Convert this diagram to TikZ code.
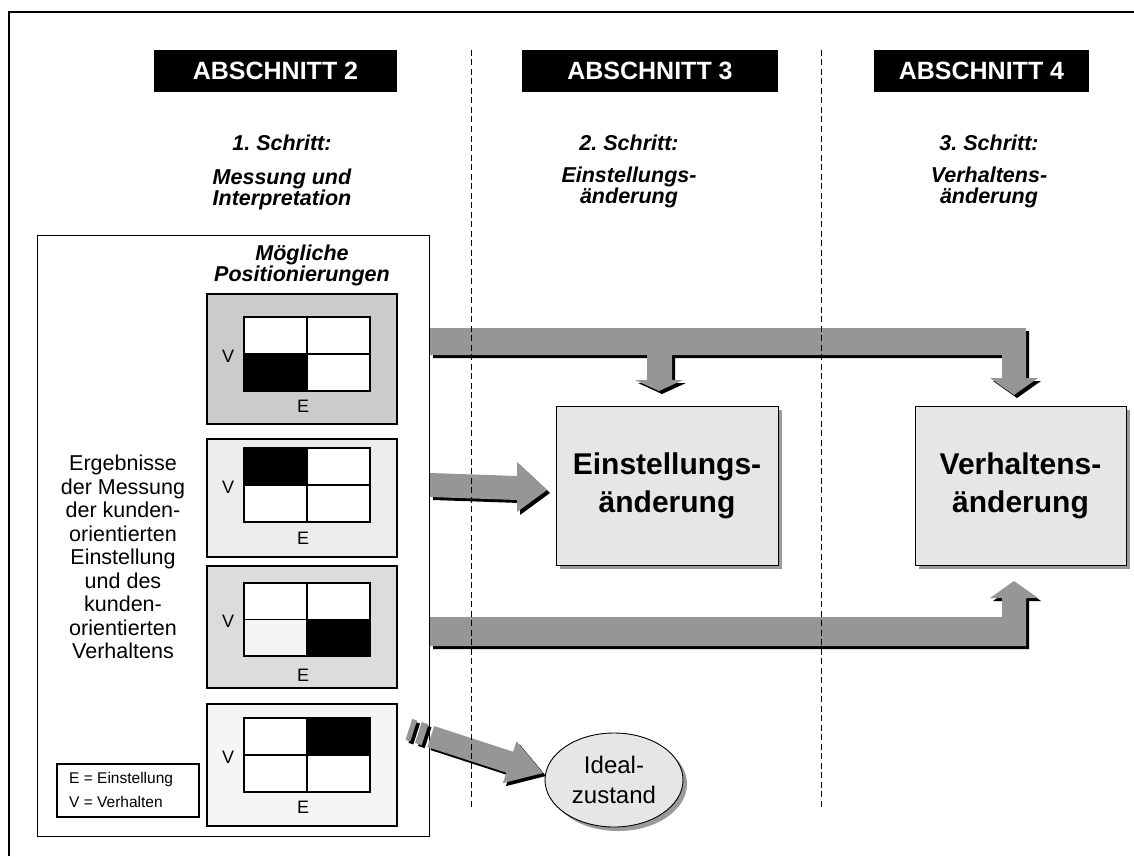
\documentclass[tikz,border=0pt]{standalone}
\usepackage{fontspec}
\setmainfont{Liberation Sans}
\usetikzlibrary{shadows,shapes.geometric}
\definecolor{arrowgray}{HTML}{969696}
\definecolor{boxgray}{HTML}{E6E6E6}
\definecolor{posA}{HTML}{CBCBCB}
\definecolor{posB}{HTML}{ECECEC}
\definecolor{posC}{HTML}{DCDCDC}
\definecolor{posD}{HTML}{F5F5F5}
\definecolor{shadowgray}{HTML}{9A9A9A}
\newcommand\TightLines{\setlength{\lineskiplimit}{-30pt}}
\frenchspacing
\begin{document}
\frenchspacing
\begin{tikzpicture}[x=1pt,y=-1pt,
  hdr/.style={fill=black,text=white,font=\fontsize{25}{28}\selectfont\bfseries,minimum height=42pt,inner sep=0pt},
  steptxt/.style={font=\TightLines\fontsize{21.5}{21}\selectfont\bfseries\itshape,align=center,inner sep=0pt},
  posbox/.style={draw=black,line width=1.2pt,minimum width=190pt,inner sep=0pt},
  gridline/.style={draw=black,line width=1.3pt},
  axislbl/.style={font=\fontsize{18}{20}\selectfont,inner sep=0pt},
  plaintxt/.style={font=\fontsize{21.5}{23.5}\selectfont,align=center,inner sep=0pt},
  changebox/.style={draw=black,line width=0.9pt,fill=boxgray,minimum width=222pt,minimum height=159pt,inner sep=0pt,align=center,
    font=\fontsize{30}{38}\selectfont\bfseries,
    drop shadow={shadow xshift=4pt,shadow yshift=-4pt,fill=shadowgray,opacity=1}},
  idealnode/.style={ellipse,draw=black,line width=0.9pt,fill=boxgray,minimum width=138pt,minimum height=94pt,inner sep=0pt,align=center,
    font=\fontsize{24}{30}\selectfont,
    drop shadow={shadow xshift=4pt,shadow yshift=-4pt,fill=shadowgray,opacity=1}},
  blockarrow/.style={fill=arrowgray,drop shadow={shadow xshift=3pt,shadow yshift=-3pt,fill=black,opacity=1}},
  divider/.style={dash pattern=on 6pt off 3.5pt,line width=0.9pt}
]
\useasboundingbox (0,0) rectangle (1134,856);
\fill[white] (0,0) rectangle (1134,856);

% outer frame (top and left edges)
\draw[line width=1.5pt] (9,856) -- (9,12) -- (1134,12);

% section headers
\node[hdr,minimum width=243pt] (h2) at (275.5,71) {ABSCHNITT 2};
\node[hdr,minimum width=256pt] (h3) at (650,71) {ABSCHNITT 3};
\node[hdr,minimum width=215pt] (h4) at (981.5,71) {ABSCHNITT 4};

% step labels
\node[steptxt,anchor=base] (s1) at (282,150) {1. Schritt:};
\node[steptxt] (s1t) at (282,189) {Messung und\\Interpretation};
\node[steptxt,anchor=base] (s2) at (629,150) {2. Schritt:};
\node[steptxt] (s2t) at (629,187) {Einstellungs-\\änderung};
\node[steptxt,anchor=base] (s3) at (989,150) {3. Schritt:};
\node[steptxt] (s3t) at (989,187) {Verhaltens-\\änderung};

% left panel
\node[draw=black,line width=1pt,minimum width=392pt,minimum height=601pt,inner sep=0pt] (bigbox) at (233,535.5) {};
\node[font=\fontsize{21.5}{21}\selectfont\bfseries\itshape,align=center,inner sep=0pt] (moeg) at (302,265) {Mögliche\\Positionierungen};

\node[posbox,fill=posA,minimum height=130pt] (p1) at (302,359) {};
\node[posbox,fill=posB,minimum height=118pt] (p2) at (302,498) {};
\node[posbox,fill=posC,minimum height=122pt] (p3) at (302,627) {};
\node[posbox,fill=posD,minimum height=122pt] (p4) at (302,765) {};

% grid 1
\fill[white] (244,317) rectangle (370,391);
\fill[black] (244,354) rectangle (307,391);
\draw[gridline] (244,317) rectangle (370,391) (307,317) -- (307,391) (244,354) -- (370,354);
% grid 2
\fill[white] (244,448) rectangle (370,522);
\fill[black] (244,448) rectangle (307,485);
\draw[gridline] (244,448) rectangle (370,522) (307,448) -- (307,522) (244,485) -- (370,485);
% grid 3
\fill[white] (244,583) rectangle (370,656);
\fill[posD] (244,619.5) rectangle (307,656);
\fill[black] (307,619.5) rectangle (370,656);
\draw[gridline] (244,583) rectangle (370,656) (307,583) -- (307,656) (244,619.5) -- (370,619.5);
% grid 4
\fill[white] (244,718) rectangle (370,792);
\fill[black] (307,718) rectangle (370,755);
\draw[gridline] (244,718) rectangle (370,792) (307,718) -- (307,792) (244,755) -- (370,755);

\node[axislbl] (v1) at (228,356) {V};
\node[axislbl] (e1) at (303,406) {E};
\node[axislbl] (v2) at (228,487) {V};
\node[axislbl] (e2) at (303,538) {E};
\node[axislbl] (v3) at (228,621) {V};
\node[axislbl] (e3) at (303,675) {E};
\node[axislbl] (v4) at (228,757) {V};
\node[axislbl] (e4) at (303,807) {E};

\node[plaintxt] (erg) at (123,557) {Ergebnisse\\der Messung\\der kunden-\\orientierten\\Einstellung\\und des\\kunden-\\orientierten\\Verhaltens};

\node[draw=black,line width=1.2pt,minimum width=142pt,minimum height=53pt,inner sep=0pt] (legend) at (128,790.5) {};
\node[anchor=west,align=left,font=\fontsize{15.5}{24}\selectfont,inner sep=0pt] (legtxt) at (69,790) {E = Einstellung\\V = Verhalten};

% change boxes and ideal state
\node[changebox] (einst) at (667,485.5) {Einstellungs-\\änderung};
\node[changebox,minimum width=211pt] (verh) at (1020.5,485.5) {Verhaltens-\\änderung};
\node[idealnode] (ideal) at (614,780) {Ideal-\\zustand};

% block arrows
\fill[blockarrow] (430,328) -- (1026,328) -- (1026,378) -- (1038,378) -- (1014,395) -- (990,378) -- (1002,378)
  -- (1002,355) -- (672,355) -- (672,380) -- (683,380) -- (659,391) -- (635,380) -- (647,380) -- (647,355) -- (430,355) -- cycle;
\fill[blockarrow] (430,473) -- (517,476) -- (517,462) -- (547,490) -- (517,512) -- (517,500) -- (430,497) -- cycle;
\fill[blockarrow] (430,617) -- (1002,617) -- (1002,598) -- (990,598) -- (1014,581) -- (1038,598) -- (1026,598)
  -- (1026,646) -- (430,646) -- cycle;
\begin{scope}[shift={(543,773)},rotate=-18]
  \fill[blockarrow] (0,0) -- (-35,-22) -- (-35,-11) -- (-118,-11) -- (-118,11) -- (-35,11) -- (-35,22) -- cycle;
  \fill[blockarrow] (-124,-11) rectangle (-131,11);
  \fill[blockarrow] (-136,-11) rectangle (-141,11);
\end{scope}

% section dividers
\draw[divider] (471,50) -- (471,808);
\draw[divider] (821,50) -- (821,808);
\end{tikzpicture}
\end{document}
